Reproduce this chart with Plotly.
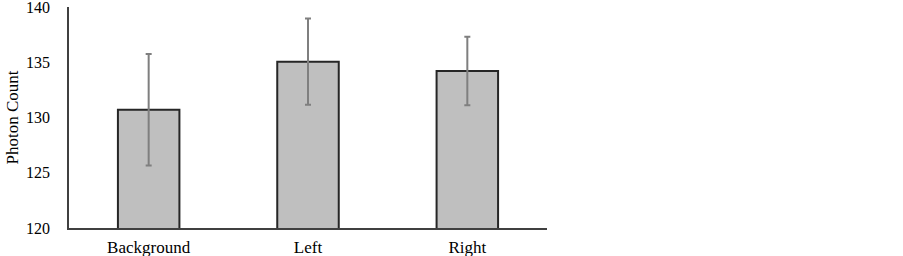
import plotly.graph_objects as go

categories = ["Background", "Left", "Right"]
photon_counts = [130.7, 135.05, 134.2]
errors = [5.05, 3.9, 3.1]
y_ticks = [120, 125, 130, 135, 140]

fig = go.Figure()
fig.add_trace(go.Bar(
    x=categories,
    y=photon_counts,
    marker=dict(color="#bfbfbf", line=dict(color="#262626", width=2)),
    error_y=dict(type="data", array=errors, visible=True,
                 color="#7f7f7f", thickness=2, width=3),
))

fig.update_layout(
    width=903, height=256,
    margin=dict(l=69, r=356, t=7, b=28),
    paper_bgcolor="white", plot_bgcolor="white",
    bargap=0.614,
    showlegend=False,
    font=dict(family="Liberation Serif", color="#000000", size=17),
    xaxis=dict(showline=True, linecolor="#404040", linewidth=1.5,
               showgrid=False, ticks="", tickfont=dict(size=17),
               ticklabelstandoff=3, automargin=False),
    yaxis=dict(range=[120, 140], tickvals=y_ticks, showline=True,
               linecolor="#404040", linewidth=1.5, showgrid=False,
               zeroline=False, ticks="", tickfont=dict(size=16),
               ticklabelstandoff=14, ticklabeloverflow="allow",
               automargin=False,
               title=dict(text="Photon Count", font=dict(size=17), standoff=3)),
)

fig.write_html("out.html",
               config={"displayModeBar": False},
               post_script="document.body.style.margin='0';document.body.style.padding='0';")
